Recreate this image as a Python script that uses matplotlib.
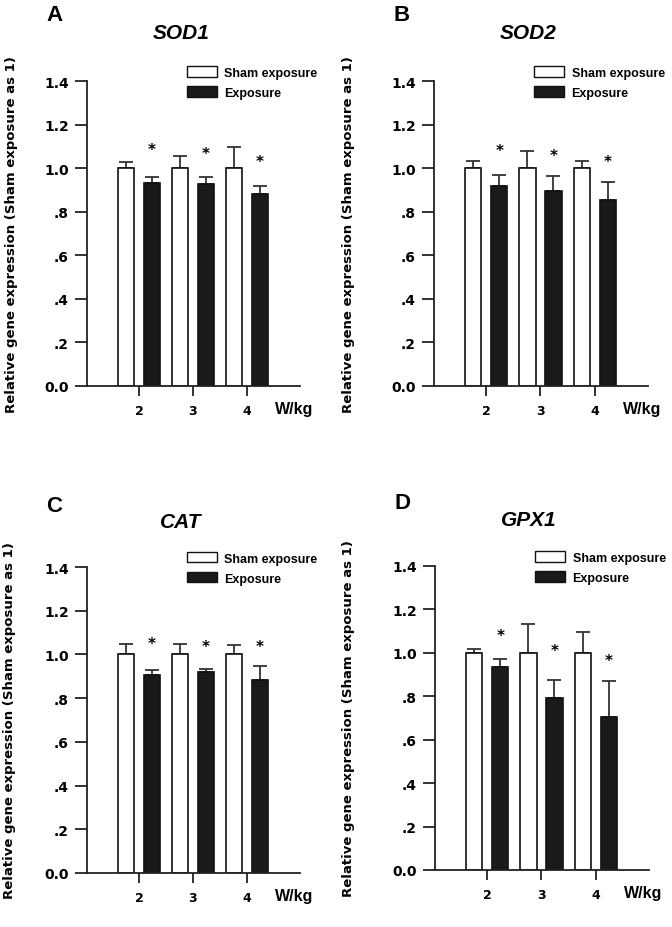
import numpy as np
import matplotlib
matplotlib.use("Agg")
import matplotlib.pyplot as plt
from matplotlib.patches import Patch

plt.rcParams['font.family'] = ['DejaVu Sans']
plt.rcParams['font.weight'] = 'bold'
arial = ['Liberation Sans', 'DejaVu Sans']

doses = ['2', '3', '4']
genes = ['SOD1', 'SOD2', 'CAT', 'GPX1']
letters = ['A', 'B', 'C', 'D']

sham_mean = [[1.0, 1.0, 1.0], [1.0, 1.0, 1.0], [1.0, 1.0, 1.0], [1.0, 1.0, 1.0]]
sham_err = [[0.027, 0.055, 0.095], [0.032, 0.078, 0.033],
            [0.050, 0.050, 0.042], [0.020, 0.133, 0.097]]
exp_mean = [[0.930, 0.928, 0.880], [0.917, 0.894, 0.853],
            [0.908, 0.920, 0.885], [0.936, 0.790, 0.706]]
exp_err = [[0.029, 0.032, 0.040], [0.051, 0.069, 0.082],
           [0.022, 0.015, 0.060], [0.036, 0.083, 0.164]]
star_y = [[1.087, 1.069, 1.032], [1.083, 1.060, 1.030],
          [1.050, 1.035, 1.035], [1.080, 1.010, 0.963]]

fig = plt.figure(figsize=(6.72, 9.28), dpi=100)
# axes boxes in pixels: left, right, bottom(y0 px), top(y1.4 px)
boxes = [(87, 300, 387, 82), (434, 648, 387, 82),
         (87, 300, 874, 568), (435, 649, 871, 567)]
label_x = [-0.325, -0.37, -0.335, -0.372]
title_y = [1.158, 1.158, 1.148, 1.152]
letter_y = [1.218, 1.218, 1.202, 1.208]

x = np.arange(2, 5)
w = 0.3
off = 0.24
for i, (l, r, b, t) in enumerate(boxes):
    ax = fig.add_axes([l/672, 1-b/928, (r-l)/672, (b-t)/928])
    ax.bar(x-off, sham_mean[i], w, color='white', edgecolor='#111111', linewidth=1.2, zorder=2)
    ax.bar(x+off, exp_mean[i], w, color='#1a1a1a', edgecolor='#111111', linewidth=1.2, zorder=2)
    ax.errorbar(x-off, sham_mean[i], yerr=[np.zeros(3), sham_err[i]], fmt='none',
                ecolor='#333333', elinewidth=1.3, capsize=5, capthick=1.3, zorder=1)
    ax.errorbar(x+off, exp_mean[i], yerr=[np.zeros(3), exp_err[i]], fmt='none',
                ecolor='#333333', elinewidth=1.3, capsize=5, capthick=1.3, zorder=1)
    for xi, sy in zip(x+off, star_y[i]):
        ax.text(xi, sy, '*', ha='center', va='center', fontsize=11, fontweight='bold')

    ax.set_xlim(1.04, 4.98)
    ax.set_ylim(0, 1.4)
    ax.set_yticks(np.arange(0, 1.41, 0.2))
    ax.set_yticklabels(['0.0', '.2', '.4', '.6', '.8', '1.0', '1.2', '1.4'])
    ax.set_xticks(x)
    ax.set_xticklabels(doses)
    ax.spines['top'].set_visible(False)
    ax.spines['right'].set_visible(False)
    for s in ['left', 'bottom']:
        ax.spines[s].set_linewidth(1.3)
        ax.spines[s].set_color('#222222')
    ax.tick_params(axis='y', length=9, width=1.3, labelsize=10, pad=4, color='#222222')
    ax.tick_params(axis='x', length=7, width=1.3, labelsize=9, pad=6, color='#222222')
    ax.set_ylabel('Relative gene expression (Sham exposure as 1)', fontsize=9.5,
                  fontweight='bold')
    ax.yaxis.set_label_coords(label_x[i], 0.5)
    ax.text(1.061, -0.075, 'W/kg', transform=ax.transAxes, ha='right', va='center',
            fontsize=11.5, fontweight='bold', family=arial)
    ax.text(0.44, title_y[i], genes[i], transform=ax.transAxes, ha='center', va='center',
            fontsize=15, fontweight='bold', fontstyle='italic', family=arial)
    ax.text(-0.19, letter_y[i], letters[i], transform=ax.transAxes, ha='left', va='center',
            fontsize=16, fontweight='bold', family=arial)
    handles = [Patch(facecolor='white', edgecolor='#111111', linewidth=1.0, label='Sham exposure'),
               Patch(facecolor='#1a1a1a', edgecolor='#111111', linewidth=1.0, label='Exposure')]
    ax.legend(handles=handles, loc='upper left', bbox_to_anchor=(0.444, 1.065), frameon=False,
              handlelength=2.4, handleheight=0.9, handletextpad=0.6,
              labelspacing=0.6, borderaxespad=0,
              prop={'weight': 'bold', 'size': 9, 'family': arial})

fig.savefig('out.png', dpi=100)
